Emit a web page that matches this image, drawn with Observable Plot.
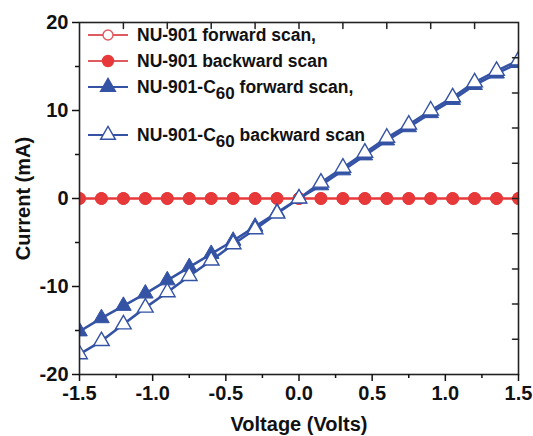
<!DOCTYPE html>
<html>
<head>
<meta charset="utf-8">
<script src="https://cdn.jsdelivr.net/npm/d3@7"></script>
<script src="https://cdn.jsdelivr.net/npm/@observablehq/plot@0.6"></script>
<style>
  html, body { margin: 0; padding: 0; background: white; }
  #chart { width: 533px; height: 436px; }
</style>
</head>
<body>
<div id="chart"></div>
<script>
// ---- data ----
const voltage = [-1.5, -1.35, -1.2, -1.05, -0.9, -0.75, -0.6, -0.45, -0.3, -0.15, 0, 0.15, 0.3, 0.45, 0.6, 0.75, 0.9, 1.05, 1.2, 1.35, 1.5];
const nu901Forward  = [0, 0, 0, 0, 0, 0, 0, 0, 0, 0, 0, 0, 0, 0, 0, 0, 0, 0, 0, 0, 0];
const nu901Backward = [0, 0, 0, 0, 0, 0, 0, 0, 0, 0, 0, 0, 0, 0, 0, 0, 0, 0, 0, 0, 0];
const c60Forward  = [-15.1, -13.6, -12.2, -10.8, -9.3, -7.8, -6.3, -4.8, -3.2, -1.6, 0, 1.5, 3.2, 4.9, 6.6, 8.1, 9.7, 11.2, 12.9, 14.2, 15.4];
const c60Backward = [-17.7, -16.2, -14.3, -12.4, -10.65, -8.8, -7.05, -5.2, -3.5, -1.7, 0, 1.8, 3.5, 5.2, 6.9, 8.4, 10.0, 11.5, 13.2, 14.5, 15.7];

const xMajor = [-1.5, -1.0, -0.5, 0.0, 0.5, 1.0, 1.5];
const xMinor = [-1.25, -0.75, -0.25, 0.25, 0.75, 1.25];
const xTop = [-1.2, -0.9, -0.6, -0.3, 0, 0.3, 0.6, 0.9, 1.2];
const yMajor = [-20, -10, 0, 10, 20];
const yMinor = [-15, -5, 5, 15];
const yRight = [-16, -12, -8, -4, 0, 4, 8, 12, 16];

const seriesNames = ["NU-901 forward scan,", "NU-901 backward scan", "NU-901-C60 forward scan,", "NU-901-C60 backward scan"];

const RED = "#e8393a";
const BLUE = "#3553a5";

const rows = (vals) => voltage.map((v, i) => ({v, c: vals[i]}));
const sF = rows(nu901Forward), sB = rows(nu901Backward), cF = rows(c60Forward), cB = rows(c60Backward);

// straight tick shape for inward mirror ticks
const tickShape = {draw(context, l) { context.moveTo(0, 0); context.lineTo(0, -l); }};

const chart = Plot.plot({
  width: 533,
  height: 436,
  marginLeft: 79,
  marginRight: 15,
  marginTop: 22,
  marginBottom: 62,
  style: {fontFamily: "'Liberation Sans', Arial, sans-serif", fontSize: "20px", fontWeight: "bold", color: "#111", background: "white"},
  x: {domain: [-1.5, 1.5]},
  y: {domain: [-20, 20]},
  marks: [
    // red series
    Plot.line(sF, {x: "v", y: "c", stroke: RED, strokeWidth: 2, clip: true}),
    Plot.dot(sF, {x: "v", y: "c", r: 5.5, symbol: "circle", fill: "white", stroke: RED, strokeWidth: 1.5, clip: true}),
    Plot.line(sB, {x: "v", y: "c", stroke: RED, strokeWidth: 2, clip: true}),
    Plot.dot(sB, {x: "v", y: "c", r: 6, symbol: "circle", fill: RED, stroke: RED, strokeWidth: 1, clip: true}),
    // blue series
    Plot.line(cF, {x: "v", y: "c", stroke: BLUE, strokeWidth: 2.6, clip: true}),
    Plot.dot(cF, {x: "v", y: "c", r: 5.8, symbol: "triangle", fill: BLUE, stroke: BLUE, strokeWidth: 1, clip: true}),
    Plot.line(cB, {x: "v", y: "c", stroke: BLUE, strokeWidth: 2.6, clip: true}),
    Plot.dot(cB, {x: "v", y: "c", r: 5.8, symbol: "triangle", fill: "white", stroke: BLUE, strokeWidth: 1.4, clip: true}),
    // frame & axes
    Plot.frame({stroke: "#222", strokeWidth: 1.6}),
    Plot.axisY(yMajor, {anchor: "left", tickSize: 7, tickPadding: 4, strokeWidth: 1.5, tickFormat: d => String(d), label: "Current (mA)", labelAnchor: "center", labelArrow: "none", labelOffset: 64}),
    Plot.axisY(yMinor, {anchor: "left", tickSize: 4, strokeWidth: 1.5, fill: "none", label: null}),
    Plot.axisX(xMajor, {anchor: "bottom", tickSize: 7, tickPadding: 4, strokeWidth: 1.5, tickFormat: d => d.toFixed(1), label: "Voltage (Volts)", labelAnchor: "center", labelArrow: "none", labelOffset: 56}),
    Plot.axisX(xMinor, {anchor: "bottom", tickSize: 4, strokeWidth: 1.5, fill: "none", label: null}),
    // inward mirror ticks on top and right
    Plot.vector(xTop, {x: d => d, frameAnchor: "top", length: 6, rotate: 180, anchor: "start", shape: tickShape, stroke: "#222", strokeWidth: 1.5}),
    Plot.vector(yRight, {y: d => d, frameAnchor: "right", length: 6, rotate: 270, anchor: "start", shape: tickShape, stroke: "#222", strokeWidth: 1.5})
  ]
});

document.getElementById("chart").appendChild(chart);

// ---- legend (inside plot, top-left) ----
const svg = d3.select(chart);
const legend = svg.append("g")
  .attr("font-family", "'Liberation Sans', Arial, sans-serif")
  .attr("font-weight", "bold").attr("font-size", 17.5).attr("fill", "#111")
  .attr("text-anchor", "start");
const entries = [
  {name: seriesNames[0], color: "#e05a5f", symbol: d3.symbolCircle, fill: "white", r: 5, y: 35},
  {name: seriesNames[1], color: "#e05a5f", symbol: d3.symbolCircle, fill: RED, r: 5.5, y: 61},
  {name: seriesNames[2], color: BLUE, symbol: d3.symbolTriangle, fill: BLUE, r: 5.5, y: 87},
  {name: seriesNames[3], color: BLUE, symbol: d3.symbolTriangle, fill: "white", r: 5.5, y: 135}
];
entries.forEach(e => {
  const g = legend.append("g").attr("transform", `translate(0,${e.y})`);
  g.append("line").attr("x1", 88).attr("x2", 128).attr("y1", 0).attr("y2", 0).attr("stroke", e.color).attr("stroke-width", 2.2);
  g.append("path").attr("d", d3.symbol(e.symbol, e.r * e.r * Math.PI)()).attr("transform", "translate(108,0)")
    .attr("fill", e.fill).attr("stroke", e.fill === "white" ? e.color : (e.color === BLUE ? BLUE : RED)).attr("stroke-width", 1.4);
  const t = g.append("text").attr("x", 137).attr("y", 0).attr("dy", "0.36em").attr("text-anchor", "start");
  const m = e.name.match(/^(.*-C)60(.*)$/);
  if (m) {
    t.append("tspan").text(m[1]);
    t.append("tspan").attr("dy", "0.35em").attr("font-size", 17).text("60");
    t.append("tspan").attr("dy", "-0.35em").text(m[2]);
  } else {
    t.text(e.name);
  }
});
</script>
</body>
</html>
